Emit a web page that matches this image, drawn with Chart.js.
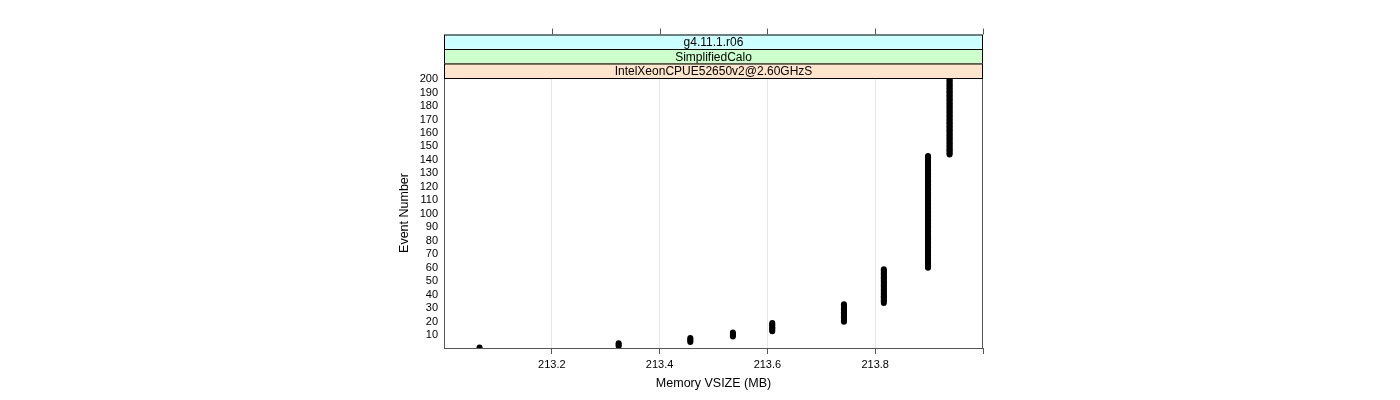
<!DOCTYPE html>
<html>
<head>
<meta charset="utf-8">
<script src="https://cdn.jsdelivr.net/npm/chart.js@4/dist/chart.umd.min.js"></script>
<style>
  html, body { margin: 0; padding: 0; background: #fff; }
  #wrap { width: 1400px; height: 400px; }
</style>
</head>
<body>
<div id="wrap"><canvas id="chart" width="1400" height="400"></canvas></div>
<script>
// memory level (MB) for each run of consecutive events
const memValues = [213.066, 213.324, 213.457, 213.536, 213.609, 213.742, 213.816, 213.898, 213.938];
const firstEvent = [1, 2, 5, 9, 13, 20, 34, 60, 144];
const lastEvent  = [1, 4, 8, 12, 19, 33, 59, 143, 200];

const xTicks = [213.2, 213.4, 213.6, 213.8, 214.0];
const yTicks = [10, 20, 30, 40, 50, 60, 70, 80, 90, 100, 110, 120, 130, 140, 150, 160, 170, 180, 190, 200];
const strips = ["g4.11.1.r06", "SimplifiedCalo", "IntelXeonCPUE52650v2@2.60GHzS"];
const stripColors = ["#ccffff", "#ccffcc", "#ffe5cc"];

const FONT = "'Liberation Sans', Arial, sans-serif";

// one point per event
const points = [];
memValues.forEach((m, i) => {
  for (let e = firstEvent[i]; e <= lastEvent[i]; e++) points.push({ x: m, y: e });
});

// STRIPS, FRAME, TOP TICKS, AXIS TITLES
const latticeDecor = {
  id: "latticeDecor",
  afterDraw(chart) {
    const { ctx, chartArea: a, scales } = chart;
    const stripH = 14.5;
    ctx.save();

    // frame
    ctx.strokeStyle = "#555";
    ctx.lineWidth = 1;
    ctx.strokeRect(a.left + 0.5, a.top + 0.5, a.right - a.left - 1, a.bottom - a.top);

    // strips, bottom one sits on the panel
    for (let i = 0; i < strips.length; i++) {
      const y = a.top - (strips.length - i) * stripH;
      ctx.fillStyle = stripColors[i];
      ctx.fillRect(a.left, y, a.right - a.left, stripH);
      ctx.strokeStyle = "#000";
      ctx.strokeRect(a.left + 0.5, y + 0.5, a.right - a.left - 1, stripH);
      ctx.fillStyle = "#000";
      ctx.font = "12px " + FONT;
      ctx.textAlign = "center";
      ctx.textBaseline = "middle";
      ctx.fillText(strips[i], (a.left + a.right) / 2, y + stripH / 2 + 1);
    }

    // tick marks above the strips
    const topY = a.top - strips.length * stripH;
    ctx.strokeStyle = "#555";
    xTicks.forEach(v => {
      const x = Math.round(scales.x.getPixelForValue(v)) + 0.5;
      ctx.beginPath();
      ctx.moveTo(x, topY);
      ctx.lineTo(x, topY - 6);
      ctx.stroke();
    });

    // axis titles
    ctx.fillStyle = "#000";
    ctx.font = "12.5px " + FONT;
    ctx.textAlign = "center";
    ctx.textBaseline = "middle";
    ctx.fillText("Memory VSIZE (MB)", (a.left + a.right) / 2, 384);
    ctx.translate(405, (a.top + a.bottom) / 2);
    ctx.rotate(-Math.PI / 2);
    ctx.fillText("Event Number", 0, 0);
    ctx.restore();
  }
};

new Chart(document.getElementById("chart"), {
  type: "scatter",
  data: {
    datasets: [{
      data: points,
      pointRadius: 3,
      pointHoverRadius: 3,
      backgroundColor: "#000",
      borderColor: "#000",
      borderWidth: 0
    }]
  },
  options: {
    responsive: false,
    animation: false,
    events: [],
    layout: { padding: { left: 400, right: 417, top: 78, bottom: 22 } },
    plugins: { legend: { display: false }, tooltip: { enabled: false } },
    scales: {
      x: {
        type: "linear",
        min: 213.0,
        max: 214.0,
        afterBuildTicks: s => { s.ticks = xTicks.map(v => ({ value: v })); },
        afterFit: s => { s.height = 30; },
        ticks: {
          color: "#000",
          font: { size: 11, family: FONT },
          padding: 4,
          maxRotation: 0,
          autoSkip: false,
          callback: v => (v >= 214 ? "" : v.toFixed(1))
        },
        grid: {
          color: c => (c.tick && c.tick.value >= 214 ? "rgba(0,0,0,0)" : "#e6e6e6"),
          tickColor: "#555",
          tickLength: 6,
          drawOnChartArea: true
        },
        border: { color: "#555" }
      },
      y: {
        type: "linear",
        min: 0.55,
        max: 200.75,
        afterBuildTicks: s => { s.ticks = yTicks.map(v => ({ value: v })); },
        afterFit: s => { s.width = 44; },
        ticks: {
          color: "#000",
          font: { size: 11, family: FONT },
          padding: 6,
          autoSkip: false
        },
        grid: { display: false, drawTicks: false },
        border: { color: "#555" }
      }
    }
  },
  plugins: [latticeDecor]
});
</script>
</body>
</html>
